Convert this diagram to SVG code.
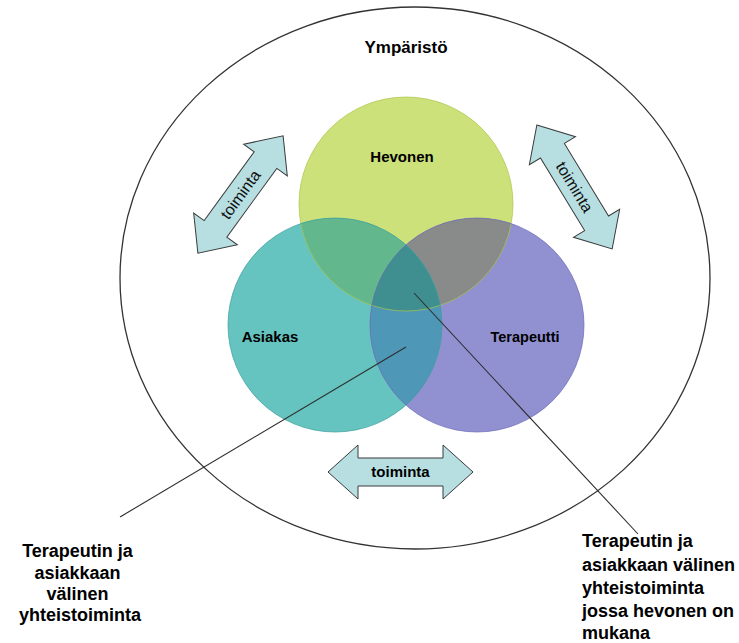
<svg xmlns="http://www.w3.org/2000/svg" width="739" height="643" viewBox="0 0 739 643">
<style>
.lbl{font-family:"Liberation Sans",Arial,sans-serif;font-weight:bold;fill:#000}
.rot{font-family:"Liberation Sans",Arial,sans-serif;font-size:16px;fill:#111}
.arrow{fill:#b7dfe2;stroke:#3a3a3a;stroke-width:1}
.edge{fill:none;stroke-opacity:0.7;stroke-width:1}
.lead{stroke:#2e2e2e;stroke-width:1.1;fill:none}
</style>
<defs>
<path id="dblArrow" d="M -72.5 0 L -42.5 -27 L -42.5 -14 L 42.5 -14 L 42.5 -27 L 72.5 0 L 42.5 27 L 42.5 14 L -42.5 14 L -42.5 27 Z"/>
<clipPath id="cG"><circle cx="406" cy="204" r="107"/></clipPath>
<clipPath id="cT"><circle cx="335" cy="325" r="107"/></clipPath>
</defs>
<rect width="739" height="643" fill="#fff"/>

<g id="ymparisto">
<ellipse cx="415" cy="278" rx="295" ry="271" fill="none" stroke="#333" stroke-width="1.3"/>
<text class="lbl" x="406" y="53" font-size="17" text-anchor="middle">Ympäristö</text>
</g>

<g id="hevonen">
<circle cx="406" cy="204" r="107" fill="#cde17a"/>
</g>
<g id="asiakas">
<circle cx="335" cy="325" r="107" fill="#66c4c0"/>
</g>
<g id="terapeutti">
<circle cx="477" cy="325" r="107" fill="#9191d2"/>
</g>
<g id="overlaps">
<circle cx="335" cy="325" r="107" fill="#62b78c" clip-path="url(#cG)"/>
<circle cx="477" cy="325" r="107" fill="#898b8b" clip-path="url(#cG)"/>
<circle cx="477" cy="325" r="107" fill="#4f97b6" clip-path="url(#cT)"/>
<g clip-path="url(#cG)"><circle cx="477" cy="325" r="107" fill="#3f8f90" clip-path="url(#cT)"/></g>
<circle class="edge" cx="406" cy="204" r="107" stroke="#a9c44a"/>
<circle class="edge" cx="335" cy="325" r="107" stroke="#3a9e9c"/>
<circle class="edge" cx="477" cy="325" r="107" stroke="#6a6ab4"/>
</g>
<g id="circle-labels">
<text class="lbl" x="402" y="162" font-size="15" text-anchor="middle">Hevonen</text>
<text class="lbl" x="270" y="342" font-size="15" text-anchor="middle">Asiakas</text>
<text class="lbl" x="525" y="342" font-size="14.5" text-anchor="middle">Terapeutti</text>
</g>

<g id="arrow-left" transform="translate(240.5,194.5) rotate(-54)">
<use href="#dblArrow" class="arrow"/>
<text class="rot" x="0" y="5.5" text-anchor="middle">toiminta</text>
</g>
<g id="arrow-right" transform="translate(574.5,187) rotate(58.7)">
<use href="#dblArrow" class="arrow"/>
<text class="rot" x="0" y="5.5" text-anchor="middle">toiminta</text>
</g>
<g id="arrow-bottom" transform="translate(400.5,472)">
<use href="#dblArrow" class="arrow"/>
<text class="lbl" x="0" y="5" font-size="15" text-anchor="middle">toiminta</text>
</g>

<g id="connectors">
<line class="lead" x1="406" y1="347" x2="120" y2="517"/>
<line class="lead" x1="414" y1="293" x2="638" y2="534"/>
</g>

<g id="label-left">
<text class="lbl" font-size="18" text-anchor="middle">
<tspan x="80" y="557">Terapeutin ja</tspan>
<tspan x="80" y="579">asiakkaan</tspan>
<tspan x="80" y="600">välinen</tspan>
<tspan x="80" y="621">yhteistoiminta</tspan>
</text>
</g>
<g id="label-right">
<text class="lbl" font-size="18">
<tspan x="582" y="547">Terapeutin ja</tspan>
<tspan x="582" y="571">asiakkaan välinen</tspan>
<tspan x="582" y="594">yhteistoiminta</tspan>
<tspan x="582" y="617">jossa hevonen on</tspan>
<tspan x="582" y="639">mukana</tspan>
</text>
</g>
</svg>
